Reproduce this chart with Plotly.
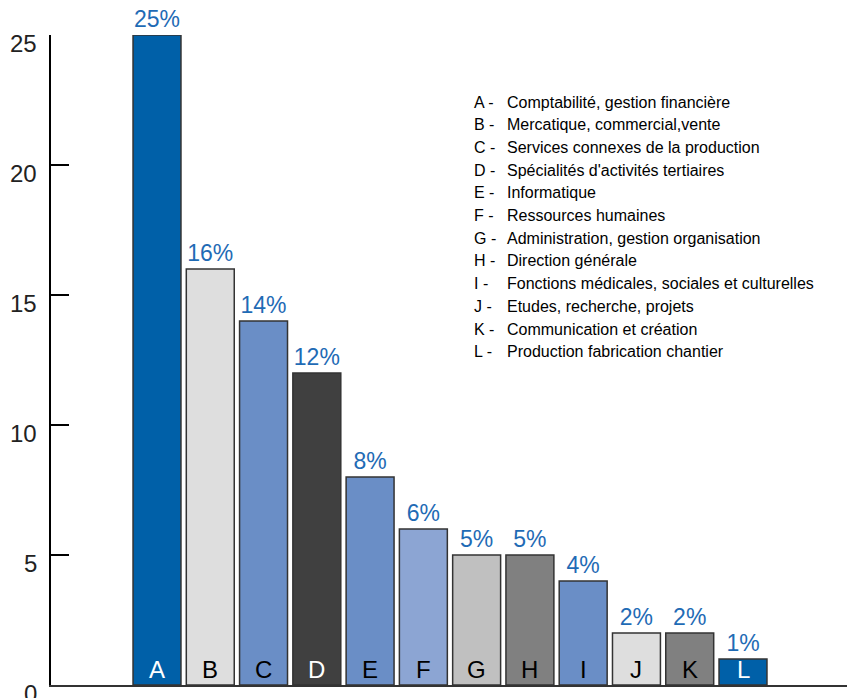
import plotly.graph_objects as go

# Share of job offers by functional field (%)
letters = ["A", "B", "C", "D", "E", "F", "G", "H", "I", "J", "K", "L"]
values = [25, 16, 14, 12, 8, 6, 5, 5, 4, 2, 2, 1]
descriptions = [
    "Comptabilité, gestion financière",
    "Mercatique, commercial,vente",
    "Services connexes de la production",
    "Spécialités d'activités tertiaires",
    "Informatique",
    "Ressources humaines",
    "Administration, gestion organisation",
    "Direction générale",
    "Fonctions médicales, sociales et culturelles",
    "Etudes, recherche, projets",
    "Communication et création",
    "Production fabrication chantier",
]
bar_colors = ["#0060A8", "#DEDEDE", "#6A8EC6", "#404040", "#6A8EC6", "#8CA5D3",
              "#C0C0C0", "#808080", "#6A8EC6", "#DEDEDE", "#808080", "#0060A8"]
letter_colors = ["white", "black", "black", "white", "black", "black",
                 "black", "black", "black", "black", "black", "white"]
y_ticks = [0, 5, 10, 15, 20, 25]

FONT = "Liberation Sans, Arial, sans-serif"
W, H = 847, 698
ML, MR, MT, MB = 51, 0, 35, 13
PW, PH = W - ML - MR, H - MT - MB


def px_x(p):
    return (p - ML) / PW


def px_y(p):
    return (H - MB - p) / PH


xs = list(range(len(letters)))

fig = go.Figure(go.Bar(
    x=xs,
    y=values,
    width=0.9,
    marker=dict(color=bar_colors, line=dict(color="#333333", width=1.5)),
    text=[f"{v}%" for v in values],
    textposition="outside",
    textfont=dict(family=FONT, size=23, color="#1F6BB5"),
    cliponaxis=False,
    hoverinfo="skip",
))

annotations = []
# letters at the foot of each bar
for x, lab, col in zip(xs, letters, letter_colors):
    annotations.append(dict(
        x=x, y=0, xref="x", yref="y", text=lab, showarrow=False,
        yanchor="bottom", yshift=0,
        font=dict(family=FONT, size=24, color=col),
    ))

# y tick labels, set slightly below their ticks
for t in y_ticks:
    annotations.append(dict(
        x=0, y=t, xref="paper", yref="y", text=str(t), showarrow=False,
        xanchor="right", xshift=-12, yshift=-8,
        font=dict(family=FONT, size=24, color="#222222"),
    ))

# key listing the fields
for i, (lab, desc) in enumerate(zip(letters, descriptions)):
    py = 102 + i * 22.7
    annotations.append(dict(
        x=px_x(472), y=px_y(py), xref="paper", yref="paper",
        text=f"{lab} -", showarrow=False, xanchor="left", yanchor="middle",
        font=dict(family=FONT, size=16, color="black"),
    ))
    annotations.append(dict(
        x=px_x(505), y=px_y(py), xref="paper", yref="paper",
        text=desc, showarrow=False, xanchor="left", yanchor="middle",
        font=dict(family=FONT, size=16, color="black"),
    ))

spacing = (743 - 157) / 11
x_lo = -(157 - ML) / spacing
x_hi = 11 + (W - 743) / spacing

fig.update_layout(
    width=W, height=H,
    margin=dict(l=ML, r=MR, t=MT, b=MB, pad=0),
    paper_bgcolor="white", plot_bgcolor="white",
    showlegend=False,
    annotations=annotations,
    xaxis=dict(
        range=[x_lo, x_hi], showgrid=False, zeroline=False,
        showticklabels=False, ticks="",
        showline=True, linecolor="#333333", linewidth=2,
        fixedrange=True,
    ),
    yaxis=dict(
        range=[0, 25], showgrid=False, zeroline=False,
        tickvals=y_ticks, showticklabels=False,
        ticks="inside", ticklen=18, tickwidth=2, tickcolor="black",
        showline=True, linecolor="black", linewidth=2,
        fixedrange=True,
    ),
)

fig.write_html("out.html")
